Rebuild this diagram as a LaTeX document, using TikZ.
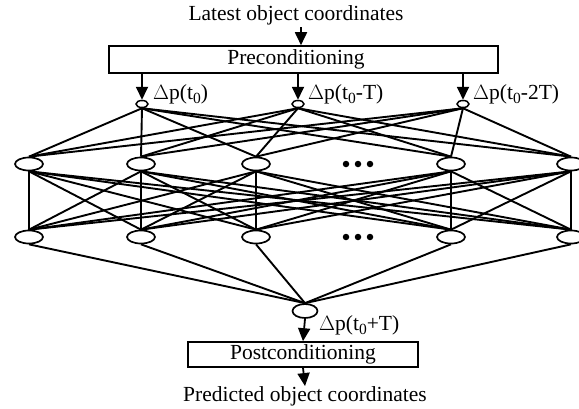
\documentclass[tikz,border=0pt]{standalone}
\usepackage{fontspec}
\setmainfont{Liberation Serif}
\usetikzlibrary{shapes.geometric,arrows.meta}
\newcommand{\sub}[1]{\raisebox{-0.45ex}{\fontsize{15.5}{15.5}\selectfont #1}}
\begin{document}
\begin{tikzpicture}[x=1pt,y=-1pt,
  font=\fontsize{21.5}{25}\selectfont,
  neuron/.style={ellipse, draw, line width=1.7pt, minimum width=28pt, minimum height=13pt, inner sep=0pt},
  inneuron/.style={ellipse, draw, line width=1.5pt, minimum width=12pt, minimum height=7pt, inner sep=0pt},
  procbox/.style={draw, line width=1.6pt, inner sep=0pt, rectangle},
  link/.style={line width=1.9pt},
  flow/.style={line width=1.8pt, -{Triangle[width=12pt,length=13pt]}},
  lbl/.style={anchor=west, inner sep=0pt},
  dot/.style={circle, fill, inner sep=0pt, minimum size=6.5pt}]
\useasboundingbox (0,0) rectangle (579,408);

% input and preprocessing
\node[inner sep=0pt] (src) at (296,15) {Latest object coordinates};
\coordinate (s0) at (301,27);
\node[procbox, minimum width=389pt, minimum height=27pt] (pre) at (303.5,59.5) {};
\node[inner sep=0pt] (pretxt) at (296,59.5) {Preconditioning};

% input layer
\node[inneuron] (i1) at (142,104) {};
\node[inneuron] (i2) at (298,104) {};
\node[inneuron] (i3) at (463,104) {};
\node[lbl] (l1) at (153,94) {$\Delta$p(t\sub{0})};
\node[lbl] (l2) at (308,94) {$\Delta$p(t\sub{0}-T)};
\node[lbl] (l3) at (473,94) {$\Delta$p(t\sub{0}-2T)};

% hidden layers
\foreach \k/\x in {1/29,2/141,3/256,4/451,5/571}{
  \node[neuron] (a\k) at (\x,164) {};
  \node[neuron] (b\k) at (\x,237) {};
}
\foreach \y/\r in {164/a,237/b}{
  \node[dot] (\r d1) at (346,\y) {};
  \node[dot] (\r d2) at (358,\y) {};
  \node[dot] (\r d3) at (370,\y) {};
}

% output layer and postprocessing
\node[neuron, minimum width=25pt, minimum height=14pt] (out) at (305,311) {};
\node[lbl] (lo) at (319,325) {$\Delta$p(t\sub{0}+T)};
\node[procbox, minimum width=230pt, minimum height=25pt] (post) at (303,354.5) {Postconditioning};
\node[inner sep=0pt] (dst) at (305,396) {Predicted object coordinates};

% weights
\foreach \i in {1,2,3}{
  \foreach \j in {1,...,5}{
    \draw[link] (i\i.south) -- (a\j.north);
  }
}
\foreach \i in {1,...,5}{
  \foreach \j in {1,...,5}{
    \draw[link] (a\i.south) -- (b\j.north);
  }
  \draw[link] (b\i.south) -- (out.north);
}

% data flow
\draw[flow] (s0) -- (s0 |- pre.north);
\draw[flow] (pre.south -| i1) -- (i1.north);
\draw[flow] (pre.south -| i2) -- (i2.north);
\draw[flow] (pre.south -| i3) -- (i3.north);
\draw[flow] (out.south) -- (post.north);
\draw[flow] (post.south) -- (dst.north);
\end{tikzpicture}
\end{document}
